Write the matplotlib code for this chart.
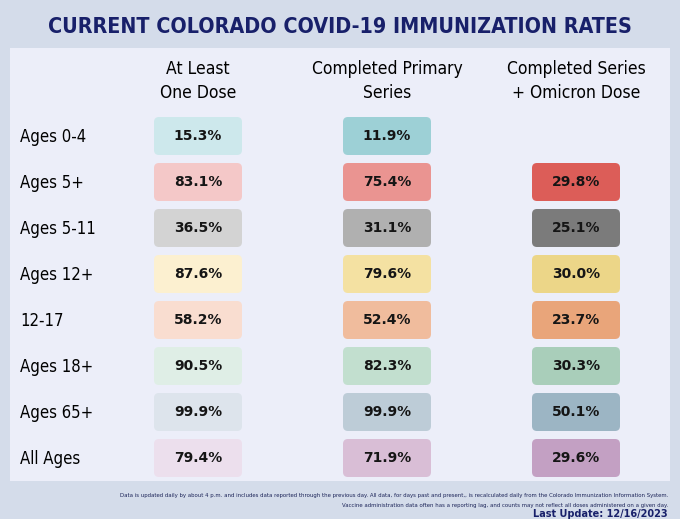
import matplotlib.pyplot as plt
from matplotlib.patches import FancyBboxPatch, Rectangle

# data
age_groups = ['Ages 0-4', 'Ages 5+', 'Ages 5-11', 'Ages 12+', '12-17', 'Ages 18+', 'Ages 65+', 'All Ages']
col_headers = ['At Least\nOne Dose', 'Completed Primary\nSeries', 'Completed Series\n+ Omicron Dose']
one_dose = [15.3, 83.1, 36.5, 87.6, 58.2, 90.5, 99.9, 79.4]
primary = [11.9, 75.4, 31.1, 79.6, 52.4, 82.3, 99.9, 71.9]
omicron = [None, 29.8, 25.1, 30.0, 23.7, 30.3, 50.1, 29.6]

# one colour family per row, light -> dark across columns
row_colors = [
    ['#cde8ec', '#9dd0d6', None],
    ['#f4c8c8', '#ea9491', '#dc5d58'],
    ['#d3d3d3', '#b0b0b0', '#7b7b7b'],
    ['#fcf0d0', '#f4e1a2', '#ecd688'],
    ['#f9ddd0', '#f0bc9d', '#e9a57a'],
    ['#dfeee6', '#c2dfcf', '#a9ceba'],
    ['#dde4ec', '#bdccd7', '#9cb5c4'],
    ['#ecdfed', '#d9bed6', '#c3a0c3'],
]

title = 'CURRENT COLORADO COVID-19 IMMUNIZATION RATES'
note1 = ('Data is updated daily by about 4 p.m. and includes data reported through the previous day. '
         'All data, for days past and present,, is recalculated daily from the Colorado Immunization Information System.')
note2 = 'Vaccine administration data often has a reporting lag, and counts may not reflect all doses administered on a given day.'
last_update = 'Last Update: 12/16/2023'

plt.rcParams['font.family'] = ['DejaVu Sans']
navy = '#18206a'

W, H = 680, 519
fig = plt.figure(figsize=(W / 100, H / 100), dpi=100)
fig.patch.set_facecolor('#d4dcea')
ax = fig.add_axes([0, 0, 1, 1])
ax.set_xlim(0, W)
ax.set_ylim(H, 0)
ax.axis('off')

# panel
ax.add_patch(Rectangle((10, 48), 660, 433, facecolor='#eceef9', edgecolor='none'))

ax.text(W / 2, 27, title, ha='center', va='center', fontsize=15.4, fontweight='bold',
        color=navy, fontstretch='condensed')

col_x = [198, 387, 576]
box_w, box_h = 88, 38
row0, pitch = 136, 46

for cx, hdr in zip(col_x, col_headers):
    ax.text(cx, 81, hdr, ha='center', va='center', fontsize=12.5, color='black',
            linespacing=1.4, fontstretch='condensed')

columns = [one_dose, primary, omicron]
for i, grp in enumerate(age_groups):
    cy = row0 + i * pitch
    ax.text(20, cy + 1, grp, ha='left', va='center', fontsize=12, color='black',
            fontstretch='condensed')
    for j, vals in enumerate(columns):
        v = vals[i]
        if v is None:
            continue
        ax.add_patch(FancyBboxPatch((col_x[j] - box_w / 2 + 5, cy - box_h / 2 + 5),
                                    box_w - 10, box_h - 10,
                                    boxstyle='round,pad=5',
                                    facecolor=row_colors[i][j], edgecolor='none'))
        ax.text(col_x[j], cy, f'{v:.1f}%', ha='center', va='center', fontsize=10,
                fontweight='bold', color='#151515')

# footer notes
ax.text(668, 496, note1, ha='right', va='center', fontsize=3.85, color='#1c2458')
ax.text(668, 505, note2, ha='right', va='center', fontsize=3.85, color='#1c2458')
ax.text(668, 514, last_update, ha='right', va='center', fontsize=7, fontweight='bold', color=navy)

fig.savefig('out.png', dpi=100, facecolor=fig.get_facecolor())
